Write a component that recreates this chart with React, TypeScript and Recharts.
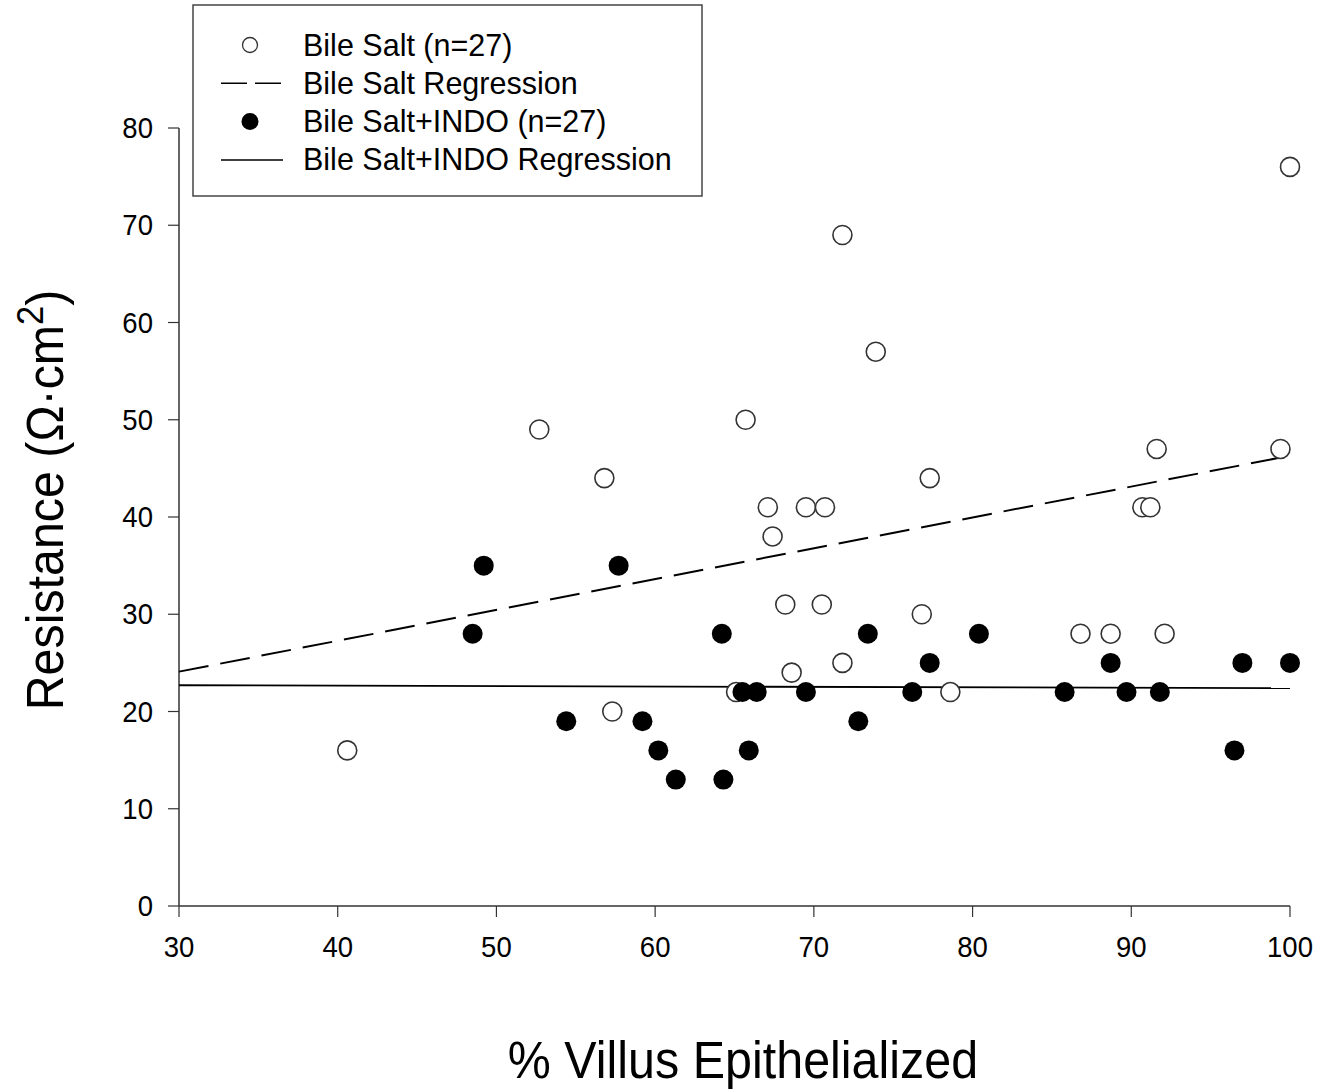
import React from "react";
import { Scatter, ScatterChart, XAxis, YAxis, Label } from "recharts";

// open circles
const bileSalt = [
  { x: 40.6, y: 16 }, { x: 52.7, y: 49 }, { x: 56.8, y: 44 }, { x: 57.3, y: 20 },
  { x: 65.7, y: 50 }, { x: 65.1, y: 22 }, { x: 67.1, y: 41 }, { x: 67.4, y: 38 },
  { x: 68.2, y: 31 }, { x: 68.6, y: 24 }, { x: 69.5, y: 41 }, { x: 70.7, y: 41 },
  { x: 70.5, y: 31 }, { x: 71.8, y: 69 }, { x: 71.8, y: 25 }, { x: 73.9, y: 57 },
  { x: 76.8, y: 30 }, { x: 77.3, y: 44 }, { x: 78.6, y: 22 }, { x: 86.8, y: 28 },
  { x: 88.7, y: 28 }, { x: 90.7, y: 41 }, { x: 91.2, y: 41 }, { x: 91.6, y: 47 },
  { x: 92.1, y: 28 }, { x: 99.4, y: 47 }, { x: 100, y: 76 },
];

// filled circles
const bileSaltIndo = [
  { x: 48.5, y: 28 }, { x: 49.2, y: 35 }, { x: 54.4, y: 19 }, { x: 57.7, y: 35 },
  { x: 59.2, y: 19 }, { x: 60.2, y: 16 }, { x: 61.3, y: 13 }, { x: 64.2, y: 28 },
  { x: 64.3, y: 13 }, { x: 65.5, y: 22 }, { x: 65.9, y: 16 }, { x: 66.4, y: 22 },
  { x: 69.5, y: 22 }, { x: 72.8, y: 19 }, { x: 73.4, y: 28 }, { x: 76.2, y: 22 },
  { x: 77.3, y: 25 }, { x: 80.4, y: 28 }, { x: 85.8, y: 22 }, { x: 88.7, y: 25 },
  { x: 89.7, y: 22 }, { x: 91.8, y: 22 }, { x: 96.5, y: 16 }, { x: 97.0, y: 25 },
  { x: 100, y: 25 },
];

const bileSaltFit = [{ x: 30, y: 24.1 }, { x: 100, y: 46.3 }];
const indoFit = [{ x: 30, y: 22.7 }, { x: 100, y: 22.4 }];

const xTicks = [30, 40, 50, 60, 70, 80, 90, 100];
const yTicks = [0, 10, 20, 30, 40, 50, 60, 70, 80];

const legendRows = [
  { label: "Bile Salt (n=27)", kind: "open" },
  { label: "Bile Salt Regression", kind: "dash" },
  { label: "Bile Salt+INDO (n=27)", kind: "filled" },
  { label: "Bile Salt+INDO Regression", kind: "solid" },
];

const FONT = "'Liberation Sans', Arial, sans-serif";

const OpenDot = (p: any) => (
  <circle cx={p.cx} cy={p.cy} r={9.5} fill="#fff" stroke="#333" strokeWidth={1.6} />
);
const FilledDot = (p: any) => <circle cx={p.cx} cy={p.cy} r={10} fill="#000" />;
const NoDot = () => <g />;

// slightly condensed text, like the original figure
const XTick = (p: any) => (
  <text
    transform={`translate(${p.x},${p.y + 40}) scale(0.95,1)`}
    textAnchor="middle"
    fontSize={29}
    fontFamily={FONT}
    fill="#000"
  >
    {p.payload.value}
  </text>
);

const YTick = (p: any) => (
  <text
    transform={`translate(${p.x - 15},${p.y + 10}) scale(0.95,1)`}
    textAnchor="end"
    fontSize={29}
    fontFamily={FONT}
    fill="#000"
  >
    {p.payload.value}
  </text>
);

const LegendBox = () => (
  <svg width={512} height={194} style={{ display: "block" }}>
    <rect x={1} y={1} width={509} height={191} fill="#fff" stroke="#444" strokeWidth={1.5} />
    {legendRows.map((r, i) => {
      const cy = 41 + i * 38.3;
      return (
        <g key={r.label}>
          {r.kind === "open" && (
            <circle cx={58} cy={cy} r={7.5} fill="#fff" stroke="#333" strokeWidth={1.3} />
          )}
          {r.kind === "filled" && <circle cx={58} cy={cy} r={8.5} fill="#000" />}
          {r.kind === "dash" && (
            <line x1={29} x2={91} y1={cy} y2={cy} stroke="#000" strokeWidth={1.5} strokeDasharray="26 8" />
          )}
          {r.kind === "solid" && (
            <line x1={29} x2={91} y1={cy} y2={cy} stroke="#000" strokeWidth={1.5} />
          )}
          <text x={111} y={cy + 10.5} fontSize={30.5} fontFamily={FONT} fill="#000">
            {r.label}
          </text>
        </g>
      );
    })}
  </svg>
);

const YTitle = () => (
  <text
    transform="translate(63,500) rotate(-90) scale(0.93,1)"
    textAnchor="middle"
    fontSize={52}
    fontFamily={FONT}
    fill="#000"
  >
    Resistance (Ω·cm<tspan dy={-20} fontSize={37}>2</tspan>
    <tspan dy={20}>)</tspan>
  </text>
);

const XTitle = () => (
  <text
    transform="translate(743,1078) scale(0.95,1)"
    textAnchor="middle"
    fontSize={51}
    fontFamily={FONT}
    fill="#000"
  >
    % Villus Epithelialized
  </text>
);

export default function App() {
  return (
    <div style={{ position: "absolute", left: 0, top: 0, width: 1334, height: 1089, background: "#fff" }}>
      <ScatterChart
        width={1334}
        height={1089}
        margin={{ top: 128, right: 44, bottom: 0, left: 0 }}
        style={{ fontFamily: FONT }}
      >
        <XAxis
          type="number"
          dataKey="x"
          domain={[30, 100]}
          ticks={xTicks}
          height={183}
          tickSize={11}
          tickMargin={0}
          axisLine={{ stroke: "#333", strokeWidth: 1.5 }}
          tickLine={{ stroke: "#333", strokeWidth: 1.2 }}
          tick={<XTick />}
        >
          <Label content={<XTitle />} />
        </XAxis>
        <YAxis
          type="number"
          dataKey="y"
          domain={[0, 80]}
          ticks={yTicks}
          width={179}
          tickSize={11}
          tickMargin={0}
          axisLine={{ stroke: "#333", strokeWidth: 1.5 }}
          tickLine={{ stroke: "#333", strokeWidth: 1.2 }}
          tick={<YTick />}
        >
          <Label content={<YTitle />} />
        </YAxis>
        <Scatter
          name="Bile Salt Regression"
          data={bileSaltFit}
          line={{ stroke: "#000", strokeWidth: 2, strokeDasharray: "30 12" }}
          shape={NoDot}
          isAnimationActive={false}
        />
        <Scatter
          name="Bile Salt+INDO Regression"
          data={indoFit}
          line={{ stroke: "#000", strokeWidth: 1.8 }}
          shape={NoDot}
          isAnimationActive={false}
        />
        <Scatter name="Bile Salt (n=27)" data={bileSalt} shape={OpenDot} isAnimationActive={false} />
        <Scatter name="Bile Salt+INDO (n=27)" data={bileSaltIndo} shape={FilledDot} isAnimationActive={false} />
      </ScatterChart>
      <div style={{ position: "absolute", left: 192, top: 4 }}>
        <LegendBox />
      </div>
    </div>
  );
}
